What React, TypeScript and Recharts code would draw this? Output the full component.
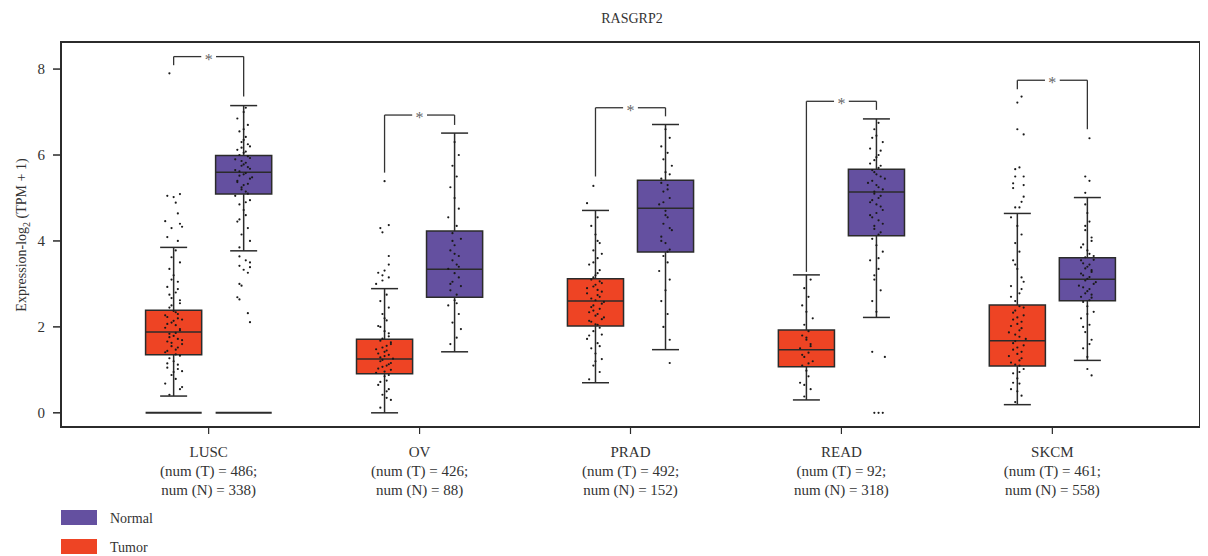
import React from 'react';
import { ComposedChart, XAxis, YAxis, Scatter, ReferenceArea, ReferenceLine } from 'recharts';

const title = 'RASGRP2';
const categories = ['LUSC', 'OV', 'PRAD', 'READ', 'SKCM'];
const tumorCounts = [486, 426, 492, 92, 461];
const normalCounts = [338, 88, 152, 318, 558];
const yTicks = [0, 2, 4, 6, 8];
const xTicks = [1, 2, 3, 4, 5];

// [lower whisker, Q1, median, Q3, upper whisker]
const tumorStats = [
  [0.39, 1.35, 1.88, 2.39, 3.85],
  [0.0, 0.91, 1.25, 1.71, 2.89],
  [0.7, 2.02, 2.6, 3.12, 4.71],
  [0.3, 1.07, 1.47, 1.93, 3.21],
  [0.19, 1.09, 1.68, 2.51, 4.64],
];
const normalStats = [
  [3.77, 5.09, 5.6, 5.99, 7.15],
  [1.42, 2.69, 3.34, 4.23, 6.51],
  [1.47, 3.74, 4.76, 5.41, 6.71],
  [2.22, 4.12, 5.14, 5.67, 6.84],
  [1.22, 2.61, 3.11, 3.61, 5.01],
];
// significance bracket: [top, left leg bottom, right leg bottom]
const brackets = [
  [8.29, 8.09, 7.36],
  [6.93, 5.59, 6.7],
  [7.1, 5.5, 6.9],
  [7.25, 3.28, 7.05],
  [7.74, 7.53, 6.6],
];
// dense cluster of samples at 0
const tumorZeroCluster = [true, false, false, false, false];
const normalZeroCluster = [true, false, false, false, false];

// jittered samples: [offset (hundredths of a category), value]
const tumorPoints: number[][][] = [
  [[-2,0.42],[3,0.55],[-4,0.68],[1,0.79],[-1,0.88],[4,0.97],[-3,1.05],[2,1.12],[0,1.2],[-2,1.27],[3,1.33],[-4,1.41],[1,1.47],[-1,1.55],[4,1.6],[-3,1.66],[2,1.72],[0,1.79],[-2,1.84],[3,1.92],[-4,1.98],[1,2.04],[-1,2.1],[4,2.17],[-3,2.23],[2,2.3],[0,2.37],[-2,2.45],[3,2.55],[-1,2.67],[1,2.8],[-3,2.93],[2,3.05],[0,3.2],[-2,3.35],[3,3.5],[-1,3.62],[1,3.78],
   [1,1.36],[-3,1.44],[2,1.52],[-1,1.63],[4,1.69],[-2,1.76],[1,1.86],[3,1.95],[-3,2.07],[0,2.14],[2,2.2],[-4,2.27],[1,2.34],[-1,2.5],[3,2.62],[-2,2.75],[0,0.95],[2,1.02],[-3,1.15],[4,0.6],[-1,3.1],[2,2.88],
   [-2,7.9],[-3,5.05],[3,5.09],[0,5.02],[1,4.89],[2,4.64],[-4,4.46],[3,4.4],[4,4.33],[-1,4.3],[-3,4.09],[2,4.0]],
  [[-2,0.12],[3,0.3],[-1,0.42],[2,0.55],[-3,0.65],[1,0.75],[0,0.85],[-4,0.93],[3,1.0],[-1,1.07],[2,1.13],[-2,1.2],[4,1.26],[0,1.32],[-3,1.38],[1,1.45],[-1,1.52],[3,1.6],[-2,1.68],[2,1.78],[0,1.9],[-3,2.02],[1,2.15],[-1,2.3],[2,2.45],[-2,2.6],[1,2.75],
   [1,0.5],[-2,0.72],[2,0.88],[0,0.96],[-3,1.03],[1,1.1],[3,1.16],[-1,1.23],[-2,1.29],[2,1.35],[0,1.42],[-4,1.48],[1,1.56],[3,1.64],[-1,1.73],[2,1.85],[-2,2.0],[0,2.2],[1,0.35],
   [0,5.39],[2,4.37],[-2,4.3],[-1,4.2],[2,3.65],[2,3.45],[-3,3.26],[0,3.31],[-1,3.2],[2,3.15],[-4,3.0],[-1,3.08]],
  [[-3,0.78],[2,0.95],[-1,1.1],[3,1.25],[0,1.38],[-2,1.5],[1,1.62],[-4,1.72],[3,1.82],[-1,1.9],[2,1.98],[0,2.06],[-3,2.14],[4,2.22],[1,2.3],[-1,2.38],[-2,2.46],[3,2.54],[0,2.62],[2,2.7],[-4,2.78],[1,2.86],[-1,2.94],[3,3.02],[-2,3.1],[0,3.2],[2,3.32],[-3,3.45],[1,3.6],[-1,3.78],[2,3.95],[0,4.15],[-2,4.35],[1,4.55],
   [1,2.05],[-2,2.12],[3,2.18],[0,2.26],[-3,2.34],[2,2.42],[-1,2.5],[4,2.58],[-2,2.66],[1,2.74],[3,2.82],[-4,2.9],[0,2.98],[2,3.06],[-1,3.15],[1,3.25],[-3,1.8],[2,1.55],[0,1.2],[-1,3.5],[3,3.7],[1,4.0],
   [-1,5.28],[-4,4.88]],
  [[-1,0.38],[2,0.55],[-3,0.7],[1,0.85],[0,0.98],[-2,1.1],[3,1.2],[-1,1.3],[1,1.4],[-3,1.5],[2,1.6],[0,1.7],[-2,1.8],[1,1.9],[-1,2.05],[3,2.2],[0,2.35],[-2,2.5],[1,2.7],[-1,2.9],[2,3.1],
   [1,1.15],[-2,1.35],[2,1.55],[0,1.75],[-1,0.65]],
  [[-1,0.25],[2,0.4],[-3,0.55],[1,0.68],[0,0.8],[-2,0.92],[3,1.02],[-1,1.12],[1,1.22],[-4,1.32],[2,1.42],[0,1.52],[-2,1.62],[4,1.72],[-1,1.82],[1,1.92],[-3,2.02],[2,2.12],[0,2.22],[-2,2.33],[3,2.45],[-1,2.6],[1,2.78],[-3,2.95],[2,3.15],[0,3.35],[-2,3.55],[1,3.75],[-1,3.95],[2,4.15],[0,4.35],[-3,4.55],
   [1,1.1],[-3,1.17],[2,1.27],[0,1.37],[-2,1.47],[3,1.57],[-1,1.67],[1,1.77],[-4,1.87],[2,1.97],[0,2.07],[-2,2.17],[3,2.27],[-1,2.38],[1,2.48],[-3,2.7],[2,2.88],[0,0.5],[-2,0.7],[1,0.95],[3,3.05],[-1,3.45],
   [2,7.36],[0,7.22],[0,6.6],[3,6.48],[1,5.71],[-1,5.67],[-1,5.5],[3,5.5],[-2,5.34],[3,5.3],[-2,5.23],[3,5.03],[2,4.91],[-1,4.78],[1,4.78]],
];
const normalPoints: number[][][] = [
  [[-2,3.85],[3,4.0],[-1,4.15],[2,4.3],[-3,4.45],[1,4.6],[0,4.72],[-2,4.85],[3,4.95],[-4,5.05],[1,5.15],[-1,5.25],[2,5.33],[-3,5.4],[4,5.48],[0,5.55],[-2,5.62],[3,5.68],[-1,5.75],[1,5.82],[-4,5.9],[2,5.97],[0,6.05],[-3,6.12],[3,6.2],[-1,6.3],[1,6.42],[-2,6.55],[2,6.7],[-3,6.85],[0,7.0],[1,7.1],
   [2,5.1],[-1,5.2],[0,5.3],[-3,5.37],[3,5.45],[-2,5.52],[1,5.58],[-4,5.65],[2,5.72],[0,5.78],[-1,5.86],[3,5.93],[-2,6.0],[1,6.08],[-1,6.17],[2,6.25],[0,6.35],[-2,4.5],[1,4.9],[0,6.6],
   [-2,3.64],[1,3.55],[3,3.5],[-2,3.42],[3,3.39],[0,3.33],[2,3.26],[-2,3.0],[-1,2.96],[-3,2.69],[-2,2.64],[2,2.32],[3,2.11]],
  [[-2,1.6],[1,1.75],[3,1.95],[-1,2.1],[2,2.3],[-3,2.5],[0,2.62],[1,2.75],[-2,2.85],[3,2.95],[-1,3.05],[2,3.15],[0,3.25],[-3,3.35],[1,3.45],[-1,3.55],[2,3.65],[-2,3.78],[0,3.9],[3,4.05],[-1,4.18],[1,4.35],[-3,4.55],[2,4.75],[0,5.0],[-2,5.25],[1,5.5],[-1,5.75],[2,6.0],[0,6.3],
   [1,2.55],[-2,3.0],[2,3.4],[0,3.7],[-1,4.0]],
  [[2,1.7],[-1,2.0],[1,2.3],[-2,2.6],[0,2.85],[2,3.1],[-3,3.3],[1,3.5],[-1,3.65],[2,3.8],[0,3.95],[-2,4.1],[3,4.25],[-1,4.4],[1,4.55],[0,4.7],[-3,4.85],[2,5.0],[-1,5.15],[1,5.3],[-2,5.45],[0,5.6],[3,5.75],[-1,5.9],[1,6.05],[-2,6.2],[2,6.4],[0,6.6],
   [1,3.75],[-2,4.0],[2,4.3],[0,4.6],[-1,4.9],[1,5.2],[-2,5.35],[2,5.55],
   [2,1.16]],
  [[0,2.35],[-2,2.6],[2,2.85],[-1,3.1],[1,3.35],[-3,3.55],[3,3.75],[0,3.9],[-2,4.05],[2,4.2],[-1,4.35],[1,4.48],[-3,4.6],[3,4.72],[0,4.85],[-2,4.95],[2,5.05],[-1,5.15],[1,5.25],[-4,5.35],[4,5.45],[0,5.55],[-2,5.65],[2,5.75],[-1,5.88],[1,6.0],[-3,6.15],[3,6.3],[0,6.45],[-1,6.6],[1,6.75],
   [1,4.15],[-1,4.28],[3,4.4],[-2,4.55],[0,4.65],[2,4.8],[-3,4.9],[1,5.0],[-1,5.1],[3,5.2],[0,5.3],[-2,5.4],[2,5.5],[-1,5.6],[1,5.7],[-3,5.8],[0,5.95],[2,6.1],[-2,6.4],[1,3.6],[-1,3.2],
   [-2,1.42],[4,1.3],[-1,0],[1,0],[3,0]],
  [[0,1.3],[-2,1.5],[2,1.7],[-1,1.88],[1,2.05],[-3,2.2],[3,2.35],[0,2.48],[-2,2.58],[2,2.68],[-1,2.78],[1,2.88],[-4,2.96],[4,3.04],[0,3.12],[-2,3.2],[2,3.28],[-1,3.36],[1,3.45],[-3,3.55],[3,3.65],[0,3.78],[-2,3.92],[2,4.08],[-1,4.25],[1,4.45],[0,4.65],[-1,4.85],
   [1,2.62],[-3,2.7],[2,2.75],[0,2.83],[-2,2.92],[3,3.0],[-1,3.08],[1,3.16],[-3,3.24],[2,3.32],[0,3.4],[-2,3.48],[3,3.56],[-1,3.62],[1,3.7],[-3,3.85],[2,4.0],[0,2.3],[-2,2.0],[1,1.6],[-1,4.35],
   [1,6.39],[-1,5.5],[1,5.4],[-1,5.12],[0,1.02],[2,0.87]],
];

const NORMAL = '#6450A0';
const TUMOR = '#EE4424';
const INK = '#2b2b2b';
const X_DOMAIN: [number, number] = [0.3, 5.7];
const Y_DOMAIN: [number, number] = [-0.33, 8.63];
const OFFSET = 0.166;
const HALF_BOX = 0.133;
const HALF_CAP = 0.064;
const STAR_GAP = 0.035;

const pointData: { x: number; y: number }[] = [];
categories.forEach((_, i) => {
  tumorPoints[i].forEach(([dx, v]) => pointData.push({ x: i + 1 - OFFSET + dx / 100, y: v }));
  normalPoints[i].forEach(([dx, v]) => pointData.push({ x: i + 1 + OFFSET + dx / 100, y: v }));
});
const starData = categories.map((_, i) => ({ x: i + 1, y: brackets[i][0] }));

const XTick = (props: any) => {
  const { x, y, payload } = props;
  const i = Math.round(payload.value) - 1;
  return (
    <text x={x} y={y} textAnchor="middle" fill="#333" fontSize={15}>
      <tspan x={x} dy={21}>{categories[i]}</tspan>
      <tspan x={x} dy={19}>{`(num (T) = ${tumorCounts[i]};`}</tspan>
      <tspan x={x} dy={19}>{`num (N) = ${normalCounts[i]})`}</tspan>
    </text>
  );
};

function boxElements(c: number, s: number[], color: string, zero: boolean, key: string) {
  const [lo, q1, med, q3, hi] = s;
  const els: React.ReactNode[] = [];
  els.push(
    <ReferenceLine key={key + 'wu'} segment={[{ x: c, y: q3 }, { x: c, y: hi }]} stroke={INK} strokeWidth={1.5} ifOverflow="visible" />,
    <ReferenceLine key={key + 'wl'} segment={[{ x: c, y: lo }, { x: c, y: q1 }]} stroke={INK} strokeWidth={1.5} ifOverflow="visible" />,
    <ReferenceLine key={key + 'cu'} segment={[{ x: c - HALF_CAP, y: hi }, { x: c + HALF_CAP, y: hi }]} stroke={INK} strokeWidth={1.5} ifOverflow="visible" />,
    <ReferenceLine key={key + 'cl'} segment={[{ x: c - HALF_CAP, y: lo }, { x: c + HALF_CAP, y: lo }]} stroke={INK} strokeWidth={1.5} ifOverflow="visible" />,
    <ReferenceArea key={key + 'box'} x1={c - HALF_BOX} x2={c + HALF_BOX} y1={q1} y2={q3} fill={color} fillOpacity={1} stroke={INK} strokeWidth={1.5} ifOverflow="visible" />,
    <ReferenceLine key={key + 'med'} segment={[{ x: c - HALF_BOX, y: med }, { x: c + HALF_BOX, y: med }]} stroke={INK} strokeWidth={1.5} ifOverflow="visible" />
  );
  if (zero) {
    els.push(
      <ReferenceLine key={key + 'zero'} segment={[{ x: c - HALF_BOX, y: 0 }, { x: c + HALF_BOX, y: 0 }]} stroke={INK} strokeWidth={2} ifOverflow="visible" />
    );
  }
  return els;
}

function bracketElements(i: number) {
  const c = i + 1;
  const [top, lb, rb] = brackets[i];
  const l = c - OFFSET;
  const r = c + OFFSET;
  const p = { stroke: '#333', strokeWidth: 1.3, ifOverflow: 'visible' as const };
  return [
    <ReferenceLine key={'bl' + i} segment={[{ x: l, y: lb }, { x: l, y: top }]} {...p} />,
    <ReferenceLine key={'bt1' + i} segment={[{ x: l, y: top }, { x: c - STAR_GAP, y: top }]} {...p} />,
    <ReferenceLine key={'bt2' + i} segment={[{ x: c + STAR_GAP, y: top }, { x: r, y: top }]} {...p} />,
    <ReferenceLine key={'br' + i} segment={[{ x: r, y: top }, { x: r, y: rb }]} {...p} />,
  ];
}

export default function App() {
  return (
    <div style={{ position: 'relative', width: 1200, height: 548, fontFamily: '"Liberation Serif", "DejaVu Serif", serif', background: '#fff' }}>
      <ComposedChart width={1200} height={548} margin={{ top: 34, right: 8, bottom: 69, left: 3 }}>
        <XAxis
          type="number"
          dataKey="x"
          domain={X_DOMAIN}
          ticks={xTicks}
          allowDataOverflow
          interval={0}
          height={60}
          tickSize={7}
          tick={<XTick />}
          axisLine={{ stroke: INK, strokeWidth: 2 }}
          tickLine={{ stroke: INK, strokeWidth: 1.2 }}
        />
        <YAxis
          type="number"
          dataKey="y"
          domain={Y_DOMAIN}
          ticks={yTicks}
          allowDataOverflow
          width={50}
          tickSize={8}
          tickMargin={8}
          tick={{ fontSize: 15, fill: '#333' }}
          axisLine={{ stroke: INK, strokeWidth: 2 }}
          tickLine={{ stroke: INK, strokeWidth: 1.5 }}
        />
        <ReferenceArea x1={X_DOMAIN[0]} x2={X_DOMAIN[1]} y1={Y_DOMAIN[0]} y2={Y_DOMAIN[1]} fill="none" stroke={INK} strokeWidth={2} ifOverflow="visible" />
        {categories.map((_, i) => boxElements(i + 1 - OFFSET, tumorStats[i], TUMOR, tumorZeroCluster[i], 't' + i))}
        {categories.map((_, i) => boxElements(i + 1 + OFFSET, normalStats[i], NORMAL, normalZeroCluster[i], 'n' + i))}
        {categories.map((_, i) => bracketElements(i))}
        <Scatter
          data={pointData}
          isAnimationActive={false}
          shape={(p: any) => <circle cx={p.cx} cy={p.cy} r={1.1} fill="#1a1a1a" />}
        />
        <Scatter
          data={starData}
          isAnimationActive={false}
          shape={(p: any) => (
            <text x={p.cx} y={p.cy + 8} textAnchor="middle" fontSize={16} fill="#666">*</text>
          )}
        />
      </ComposedChart>
      <svg width={1200} height={548} style={{ position: 'absolute', left: 0, top: 0, pointerEvents: 'none' }}>
        <text x={624} y={15} textAnchor="middle" fontSize={14} fill="#333">{title}</text>
        <text transform="translate(18, 227) rotate(-90)" textAnchor="middle" fontSize={14} fill="#333">
          Expression-log
          <tspan fontSize={10} dy={4}>2</tspan>
          <tspan dy={-4}> (TPM + 1)</tspan>
        </text>
        <rect x={53} y={502} width={36} height={15} fill={NORMAL} />
        <text x={102} y={515} fontSize={14} fill="#333">Normal</text>
        <rect x={53} y={531} width={36} height={15} fill={TUMOR} />
        <text x={102} y={544} fontSize={14} fill="#333">Tumor</text>
      </svg>
    </div>
  );
}
